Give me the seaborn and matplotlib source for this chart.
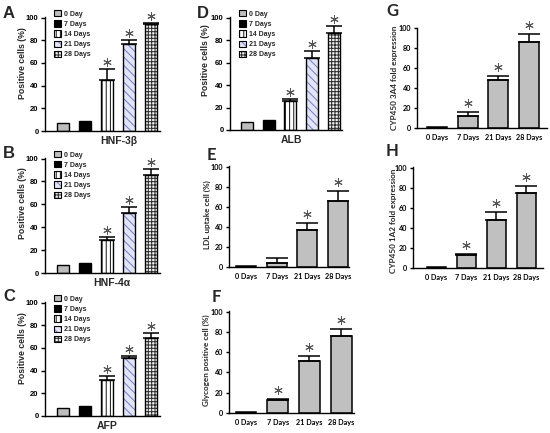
import matplotlib
matplotlib.use("Agg")
import matplotlib.pyplot as plt
import seaborn as sns
import pandas as pd
import numpy as np
from matplotlib.patches import Patch, Rectangle
from matplotlib.transforms import offset_copy
from matplotlib.legend_handler import HandlerTuple

# ---------------- data ----------------
days5 = ["0 Day", "7 Days", "14 Days", "21 Days", "28 Days"]
hnf3b = [7.3, 9.0, 45.0, 77.0, 94.0]
hnf3b_err = [0, 0, 10.0, 3.0, 1.5]
hnf4a = [7.3, 9.0, 28.6, 52.0, 85.5]
hnf4a_err = [0, 0, 3.0, 5.7, 5.3]
afp = [7.3, 9.0, 32.0, 51.3, 69.0]
afp_err = [0, 0, 3.0, 2.0, 4.3]
alb = [6.8, 8.9, 26.0, 64.0, 86.0]
alb_err = [0, 0, 2.0, 6.4, 6.6]
sig5 = [False, False, True, True, True]

days4 = ["0 Days", "7 Days", "21 Days", "28 Days"]
ldl = [1.3, 4.0, 36.7, 65.2]
ldl_err = [0, 4.9, 6.6, 10.8]
ldl_sig = [False, False, True, True]
glycogen = [1.0, 12.4, 51.6, 76.0]
glycogen_err = [0, 1.6, 4.4, 7.0]
cyp3a4 = [1.0, 11.7, 48.0, 86.6]
cyp3a4_err = [0, 4.3, 4.0, 7.7]
cyp1a2 = [1.3, 12.5, 47.5, 74.4]
cyp1a2_err = [0, 1.3, 8.2, 6.9]
sig4 = [False, True, True, True]

yticks = [0, 20, 40, 60, 80, 100]

# ---------------- style ----------------
sns.set_theme(style="ticks")
plt.rcParams['font.family'] = ['Liberation Sans', 'DejaVu Sans']
plt.rcParams['hatch.linewidth'] = 0.75
plt.rcParams['axes.linewidth'] = 1.0

fills5 = ['#bdbdbd', 'black', 'white', '#e2e5f6', '#f4f4f4']
hatches5 = ['', '', '||||', '\\\\\\\\', '+++++']
hatchcols5 = ['black', 'black', '#202020', '#7a82c8', '#303030']

W, H = 550, 433
fig = plt.figure(figsize=(W / 100, H / 100), dpi=100)


def rect_px(x0, x1, y100, y0):
    return [x0 / W, 1 - y0 / H, (x1 - x0) / W, (y0 - y100) / H]


def style_bars(ax, bars, fills, hatches, hatchcols, lw):
    for p, fc, h, hc in zip(bars, fills, hatches, hatchcols):
        p.set_facecolor(fc)
        if h:
            p.set_hatch(h)
            p.set_edgecolor(hc)
            p.set_linewidth(0)
            ax.add_patch(Rectangle(p.get_xy(), p.get_width(), p.get_height(),
                                   fill=False, ec='black', lw=lw,
                                   zorder=p.get_zorder() + 0.1))
        else:
            p.set_edgecolor('black')
            p.set_linewidth(lw)


def add_err_sig(ax, bars, vals, errs, sig, capsize, star_off, ms):
    xs = np.array([p.get_x() + p.get_width() / 2 for p in bars])
    v = np.array(vals, float)
    e = np.array(errs, float)
    m = e > 0
    ax.errorbar(xs[m], v[m], yerr=[np.zeros(m.sum()), e[m]], fmt='none',
                ecolor='black', elinewidth=1.1, capsize=capsize, capthick=1.1,
                zorder=5)
    s = np.array(sig)
    tr = offset_copy(ax.transData, fig=fig, y=star_off, units='dots')
    ax.scatter(xs[s], (v + e)[s], marker=(6, 2, 0), s=ms ** 2, color='#555555',
               linewidths=0.7, transform=tr, clip_on=False, zorder=6)


def panel5(px, vals, errs, xlabel, xl_x, yl_xy, xlim, letter, letter_px):
    ax = fig.add_axes(rect_px(*px))
    df = pd.DataFrame({"day": days5, "val": vals})
    sns.barplot(data=df, x="day", y="val", hue="day", palette=fills5,
                legend=False, saturation=1, width=0.55, errorbar=None, ax=ax)
    bars = list(ax.patches)[:len(days5)]
    style_bars(ax, bars, fills5, hatches5, hatchcols5, 1.0)
    add_err_sig(ax, bars, vals, errs, sig5, 6, 7, 5.5)
    ax.set_ylim(0, 100.5)
    ax.set_xlim(*xlim)
    ax.set_yticks(yticks)
    ax.tick_params(axis='y', labelsize=5.5, length=3, width=1.0, pad=1.5, colors='black')
    for t in ax.get_yticklabels():
        t.set_fontweight('bold')
    ax.set_xticks([])
    ax.set_xlabel(xlabel, fontsize=7.5, fontweight='bold')
    ax.xaxis.set_label_coords(xl_x, -0.04)
    ax.set_ylabel("Positive cells (%)", fontsize=6.3, fontweight='bold')
    ax.yaxis.set_label_coords(*yl_xy)
    sns.despine(ax=ax)
    for sp in ax.spines.values():
        sp.set_color('black')
    handles = [(Patch(fc=fc, hatch=h, ec=hc, lw=0), Patch(fill=False, ec='black', lw=0.8))
               for fc, h, hc in zip(fills5, hatches5, hatchcols5)]
    ax.legend(handles, days5, handler_map={tuple: HandlerTuple(ndivide=1, pad=0)},
              loc='upper left', bbox_to_anchor=(0.08, 1.06), frameon=False,
              prop={'size': 5, 'weight': 'bold'}, handlelength=0.95,
              handleheight=1.0, handletextpad=0.45, labelspacing=0.38,
              borderaxespad=0, borderpad=0)
    fig.text(letter_px[0] / W, 1 - letter_px[1] / H, letter, fontsize=12,
             fontweight='bold', ha='left', va='top')
    return ax


def panel4(px, vals, errs, sig, ylabel, yl_xy, xlim, letter, letter_px):
    ax = fig.add_axes(rect_px(*px))
    df = pd.DataFrame({"day": days4, "val": vals})
    sns.barplot(data=df, x="day", y="val", color='#c0c0c0', saturation=1,
                width=0.65, errorbar=None, ax=ax)
    bars = list(ax.patches)[:len(days4)]
    style_bars(ax, bars, ['#c0c0c0'] * 4, [''] * 4, ['black'] * 4, 1.1)
    add_err_sig(ax, bars, vals, errs, sig, 8, 9, 5.5)
    ax.set_ylim(0, 100.5)
    ax.set_xlim(*xlim)
    ax.set_yticks(yticks)
    ax.tick_params(axis='y', labelsize=5.2, length=2.5, width=1.0, pad=1.5, colors='black')
    ax.tick_params(axis='x', labelsize=5.2, length=0, pad=4, colors='black')
    for t in ax.get_yticklabels() + ax.get_xticklabels():
        t.set_fontweight('bold')
        t.set_family(['Lato', 'DejaVu Sans'])
    ax.set_xlabel("")
    ax.set_ylabel(ylabel, fontsize=5.9, fontweight='bold', family=['Lato', 'DejaVu Sans'])
    ax.yaxis.set_label_coords(*yl_xy)
    sns.despine(ax=ax)
    for sp in ax.spines.values():
        sp.set_color('black')
    fig.text(letter_px[0] / W, 1 - letter_px[1] / H, letter, fontsize=12,
             fontweight='bold', ha='left', va='top', family=['Lato', 'DejaVu Sans'])
    return ax


panel5((45, 160, 17, 131), hnf3b, hnf3b_err, "HNF-3β", 0.64, (-0.157, 0.60),
       (-0.82, 4.4), "A", (3, 6))
panel5((45, 160, 158, 273), hnf4a, hnf4a_err, "HNF-4α", 0.58, (-0.157, 0.61),
       (-0.82, 4.4), "B", (3, 146))
panel5((45, 160, 302, 416), afp, afp_err, "AFP", 0.54, (-0.157, 0.60),
       (-0.82, 4.4), "C", (3, 289))
panel5((230, 342, 17, 130), alb, alb_err, "ALB", 0.545, (-0.18, 0.62),
       (-0.78, 4.37), "D", (197, 6))

panel4((229, 349, 166, 267), ldl, ldl_err, ldl_sig, "LDL uptake cell (%)",
       (-0.15, 0.52), (-0.55, 3.36), "E", (207, 147))
panel4((229, 354, 311, 413), glycogen, glycogen_err, sig4, "Glycogen positive cell (%)",
       (-0.15, 0.52), (-0.53, 3.4), "F", (212, 289))
panel4((417, 547, 28, 128), cyp3a4, cyp3a4_err, sig4, "CYP450 3A4 fold expression",
       (-0.146, 0.5), (-0.65, 3.59), "G", (386, 3))
panel4((413, 543, 167, 268), cyp1a2, cyp1a2_err, sig4, "CYP450 1A2 fold expression",
       (-0.123, 0.47), (-0.78, 3.55), "H", (386, 143))

fig.savefig("out.png", dpi=100, facecolor='white')
